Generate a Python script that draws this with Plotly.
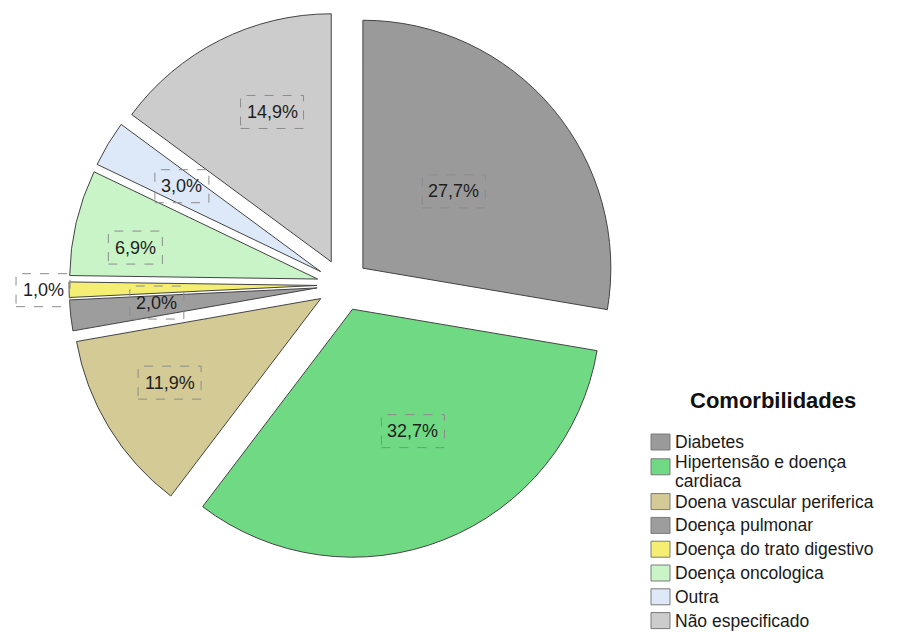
import math
import plotly.graph_objects as go

# ---- data ----
categories = [
    "Diabetes",
    "Hipertensão e doença<br>cardiaca",
    "Doena vascular periferica",
    "Doença pulmonar",
    "Doença do trato digestivo",
    "Doença oncologica",
    "Outra",
    "Não especificado",
]
values = [27.7, 32.7, 11.9, 2.0, 1.0, 6.9, 3.0, 14.9]
legend_title = "Comorbilidades"

# ---- styles ----
colors = ["#9a9a9a", "#6fda83", "#d3ca95", "#9d9d9d", "#f4ef72", "#c9f4c8", "#dde9f8", "#cccccc"]
label_dist_px = [145, 162, 199, 187, 300, 211, 189, 187]      # label distance from pie centre
label_angle_shift = [0, -4, 2, 1, 0, -3, 0.5, 4.5]             # small angular nudges (deg)

FONT = "Liberation Sans, Arial"
W, H = 900, 633
CX, CY = 343, 285      # pie centre in pixels
R_OUT = 274            # domain half-size in pixels
PULL = 0.105

fig = go.Figure()
fig.add_trace(go.Pie(
    labels=categories,
    values=values,
    sort=False,
    direction="clockwise",
    rotation=0,
    pull=[PULL] * len(values),
    textinfo="none",
    marker=dict(colors=colors, line=dict(color="#444444", width=1)),
    domain=dict(x=[(CX - R_OUT) / W, (CX + R_OUT) / W],
                y=[1 - (CY + R_OUT) / H, 1 - (CY - R_OUT) / H]),
    showlegend=False,
))

def px(x):
    return x / W

def py(y):
    return 1 - y / H

annotations = []
shapes = []

# ---- slice labels with dashed boxes ----
total = sum(values)
cum = 0.0
for v, d, sh in zip(values, label_dist_px, label_angle_shift):
    a = math.radians((cum + v / 2) / total * 360 + sh)
    cum += v
    xp = CX + d * math.sin(a)
    yp = CY - d * math.cos(a)
    txt = f"{v:.1f}".replace(".", ",") + "%"
    annotations.append(dict(
        x=px(xp), y=py(yp), xref="paper", yref="paper",
        text=txt, showarrow=False, xanchor="center", yanchor="middle",
        font=dict(family=FONT, size=18, color="#1e1e1e"),
    ))
    bw = 18 + 9 * len(txt)
    bh = 33
    shapes.append(dict(
        type="rect", xref="paper", yref="paper",
        x0=px(xp - bw / 2), x1=px(xp + bw / 2),
        y0=py(yp + bh / 2), y1=py(yp - bh / 2),
        line=dict(color="#8c8c8c", width=1, dash="dash"),
    ))

# ---- legend (drawn manually to match the compact layout) ----
LX_SW, SW_W, SW_H = 651, 19, 16
LX_TX = 673
ROW0, ROW_STEP, EXTRA_LINE, LINE_GAP = 442, 23.8, 12, 19
annotations.append(dict(
    x=px(688), y=py(400), xref="paper", yref="paper",
    text="<b>" + legend_title + "</b>", showarrow=False,
    xanchor="left", yanchor="middle",
    font=dict(family=FONT, size=22, color="#111111"),
))
extra = 0
for i, (name, col) in enumerate(zip(categories, colors)):
    yc = ROW0 + ROW_STEP * i + EXTRA_LINE * extra
    lines = name.split("<br>")
    multi = len(lines) > 1
    sw_y = yc + (1 if multi else 0)
    shapes.append(dict(
        type="rect", xref="paper", yref="paper",
        x0=px(LX_SW), x1=px(LX_SW + SW_W),
        y0=py(sw_y + SW_H / 2), y1=py(sw_y - SW_H / 2),
        fillcolor=col, line=dict(color="#7a7a7a", width=1),
    ))
    for j, ln in enumerate(lines):
        ty = yc - (4 if multi else 0) + LINE_GAP * j
        annotations.append(dict(
            x=px(LX_TX), y=py(ty), xref="paper", yref="paper",
            text=ln, showarrow=False, xanchor="left", yanchor="middle",
            font=dict(family=FONT, size=17.5, color="#1a1a1a"),
        ))
    extra += len(lines) - 1

fig.update_layout(
    width=W, height=H,
    margin=dict(l=0, r=0, t=0, b=0),
    paper_bgcolor="white",
    plot_bgcolor="white",
    annotations=annotations,
    shapes=shapes,
    showlegend=False,
)

fig.write_html("out.html")
